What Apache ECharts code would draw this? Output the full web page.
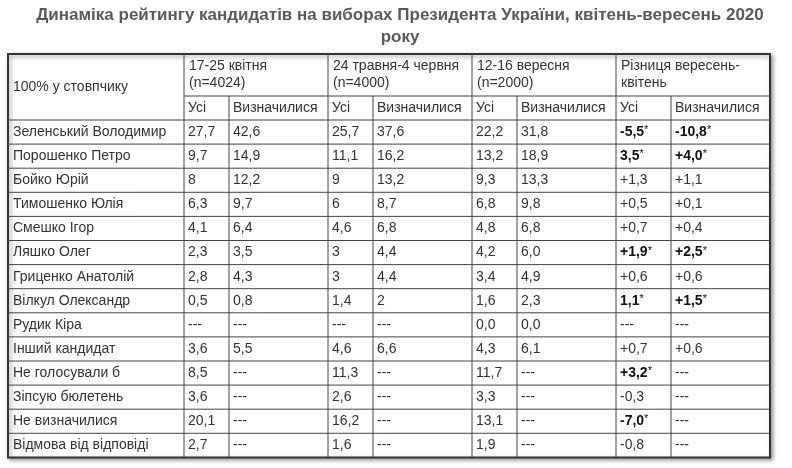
<!DOCTYPE html>
<html>
<head>
<meta charset="UTF-8">
<script src="https://cdn.jsdelivr.net/npm/echarts@6/dist/echarts.min.js"></script>
<style>html,body{margin:0;background:#fff}#c{width:792px;height:468px}</style>
</head>
<body>
<div id="c"></div>
<script>
var title = ['Динаміка рейтингу кандидатів на виборах Президента України, квітень-вересень 2020', 'року'];
var corner = '100% у стовпчику';
var groups = ['17-25 квітня\n(n=4024)', '24 травня-4 червня\n(n=4000)', '12-16 вересня\n(n=2000)', 'Різниця вересень-\nквітень'];
var subHeads = ['Усі', 'Визначилися'];
var candidates = ['Зеленський Володимир', 'Порошенко Петро', 'Бойко Юрій', 'Тимошенко Юлія', 'Смешко Ігор',
  'Ляшко Олег', 'Гриценко Анатолій', 'Вілкул Олександр', 'Рудик Кіра', 'Інший кандидат',
  'Не голосували б', 'Зіпсую бюлетень', 'Не визначилися', 'Відмова від відповіді'];
var april = [['27,7','42,6'],['9,7','14,9'],['8','12,2'],['6,3','9,7'],['4,1','6,4'],['2,3','3,5'],['2,8','4,3'],['0,5','0,8'],['---','---'],['3,6','5,5'],['8,5','---'],['3,6','---'],['20,1','---'],['2,7','---']];
var june = [['25,7','37,6'],['11,1','16,2'],['9','13,2'],['6','8,7'],['4,6','6,8'],['3','4,4'],['3','4,4'],['1,4','2'],['---','---'],['4,6','6,6'],['11,3','---'],['2,6','---'],['16,2','---'],['1,6','---']];
var sept = [['22,2','31,8'],['13,2','18,9'],['9,3','13,3'],['6,8','9,8'],['4,8','6,8'],['4,2','6,0'],['3,4','4,9'],['1,6','2,3'],['0,0','0,0'],['4,3','6,1'],['11,7','---'],['3,3','---'],['13,1','---'],['1,9','---']];
// '*' suffix = significant (bold)
var diff = [['-5,5*','-10,8*'],['3,5*','+4,0*'],['+1,3','+1,1'],['+0,5','+0,1'],['+0,7','+0,4'],['+1,9*','+2,5*'],['+0,6','+0,6'],['1,1*','+1,5*'],['---','---'],['+0,7','+0,6'],['+3,2*','---'],['-0,3','---'],['-7,0*','---'],['-0,8','---']];

var colX = [8, 184, 229, 328, 373, 472, 517, 616, 671, 770];
var tableTop = 54, h1 = 96, h2 = 120, rowH = 24.1;
var tableBottom = h2 + rowH * candidates.length;
var font = '14px "Liberation Sans", Arial, sans-serif';
var els = [];
function txt(x, y, s, va) {
  var bold = /\*$/.test(s);
  els.push({type: 'text', x: x, y: y, style: bold ? {
      text: '{b|' + s.slice(0, -1) + '}{n|*}', verticalAlign: va || 'middle',
      rich: {b: {font: 'bold ' + font, fill: '#111'}, n: {font: '11px "Liberation Sans", Arial', fill: '#111', verticalAlign: 'top', padding: [0,0,4,0]}}
    } : {text: s, font: font, fill: '#333', verticalAlign: va || 'middle', lineHeight: 17}});
}
function line(x1, y1, x2, y2) {
  els.push({type: 'line', shape: {x1: x1, y1: y1, x2: x2, y2: y2}, style: {stroke: '#444', lineWidth: 1}});
}
// title
els.push({type: 'text', x: 400, y: 4, style: {text: title.join('\n'), font: 'bold 17px "Liberation Sans", Arial', fill: '#5a5a5a', align: 'center', lineHeight: 22}});
// shadow + frame
els.push({type: 'rect', shape: {x: colX[0], y: tableTop, width: colX[9] - colX[0], height: tableBottom - tableTop},
  style: {fill: '#fff', stroke: '#333', lineWidth: 2, shadowBlur: 4, shadowOffsetX: 2, shadowOffsetY: 2, shadowColor: 'rgba(0,0,0,0.4)'}});
// grid lines
line(colX[1], h1, colX[9], h1);
for (var r = 0; r <= candidates.length - 1; r++) line(colX[0], h2 + rowH * r, colX[9], h2 + rowH * r);
[1, 3, 5, 7].forEach(function (i) { line(colX[i], tableTop, colX[i], tableBottom); });
[2, 4, 6, 8].forEach(function (i) { line(colX[i], h1, colX[i], tableBottom); });
// headers
txt(colX[0] + 5, (tableTop + h2) / 2, corner);
groups.forEach(function (g, i) { txt(colX[1 + 2 * i] + 5, tableTop + 4, g, 'top'); });
for (var i = 1; i < 9; i++) txt(colX[i] + 4, (h1 + h2) / 2, subHeads[(i - 1) % 2]);
// body
var blocks = [april, june, sept, diff];
candidates.forEach(function (name, r) {
  var cy = h2 + rowH * r + rowH / 2;
  txt(colX[0] + 5, cy, name);
  blocks.forEach(function (b, bi) {
    txt(colX[1 + 2 * bi] + 4, cy, b[r][0]);
    txt(colX[2 + 2 * bi] + 4, cy, b[r][1]);
  });
});
var chart = echarts.init(document.getElementById('c'));
chart.setOption({graphic: {elements: els}});
</script>
</body>
</html>
